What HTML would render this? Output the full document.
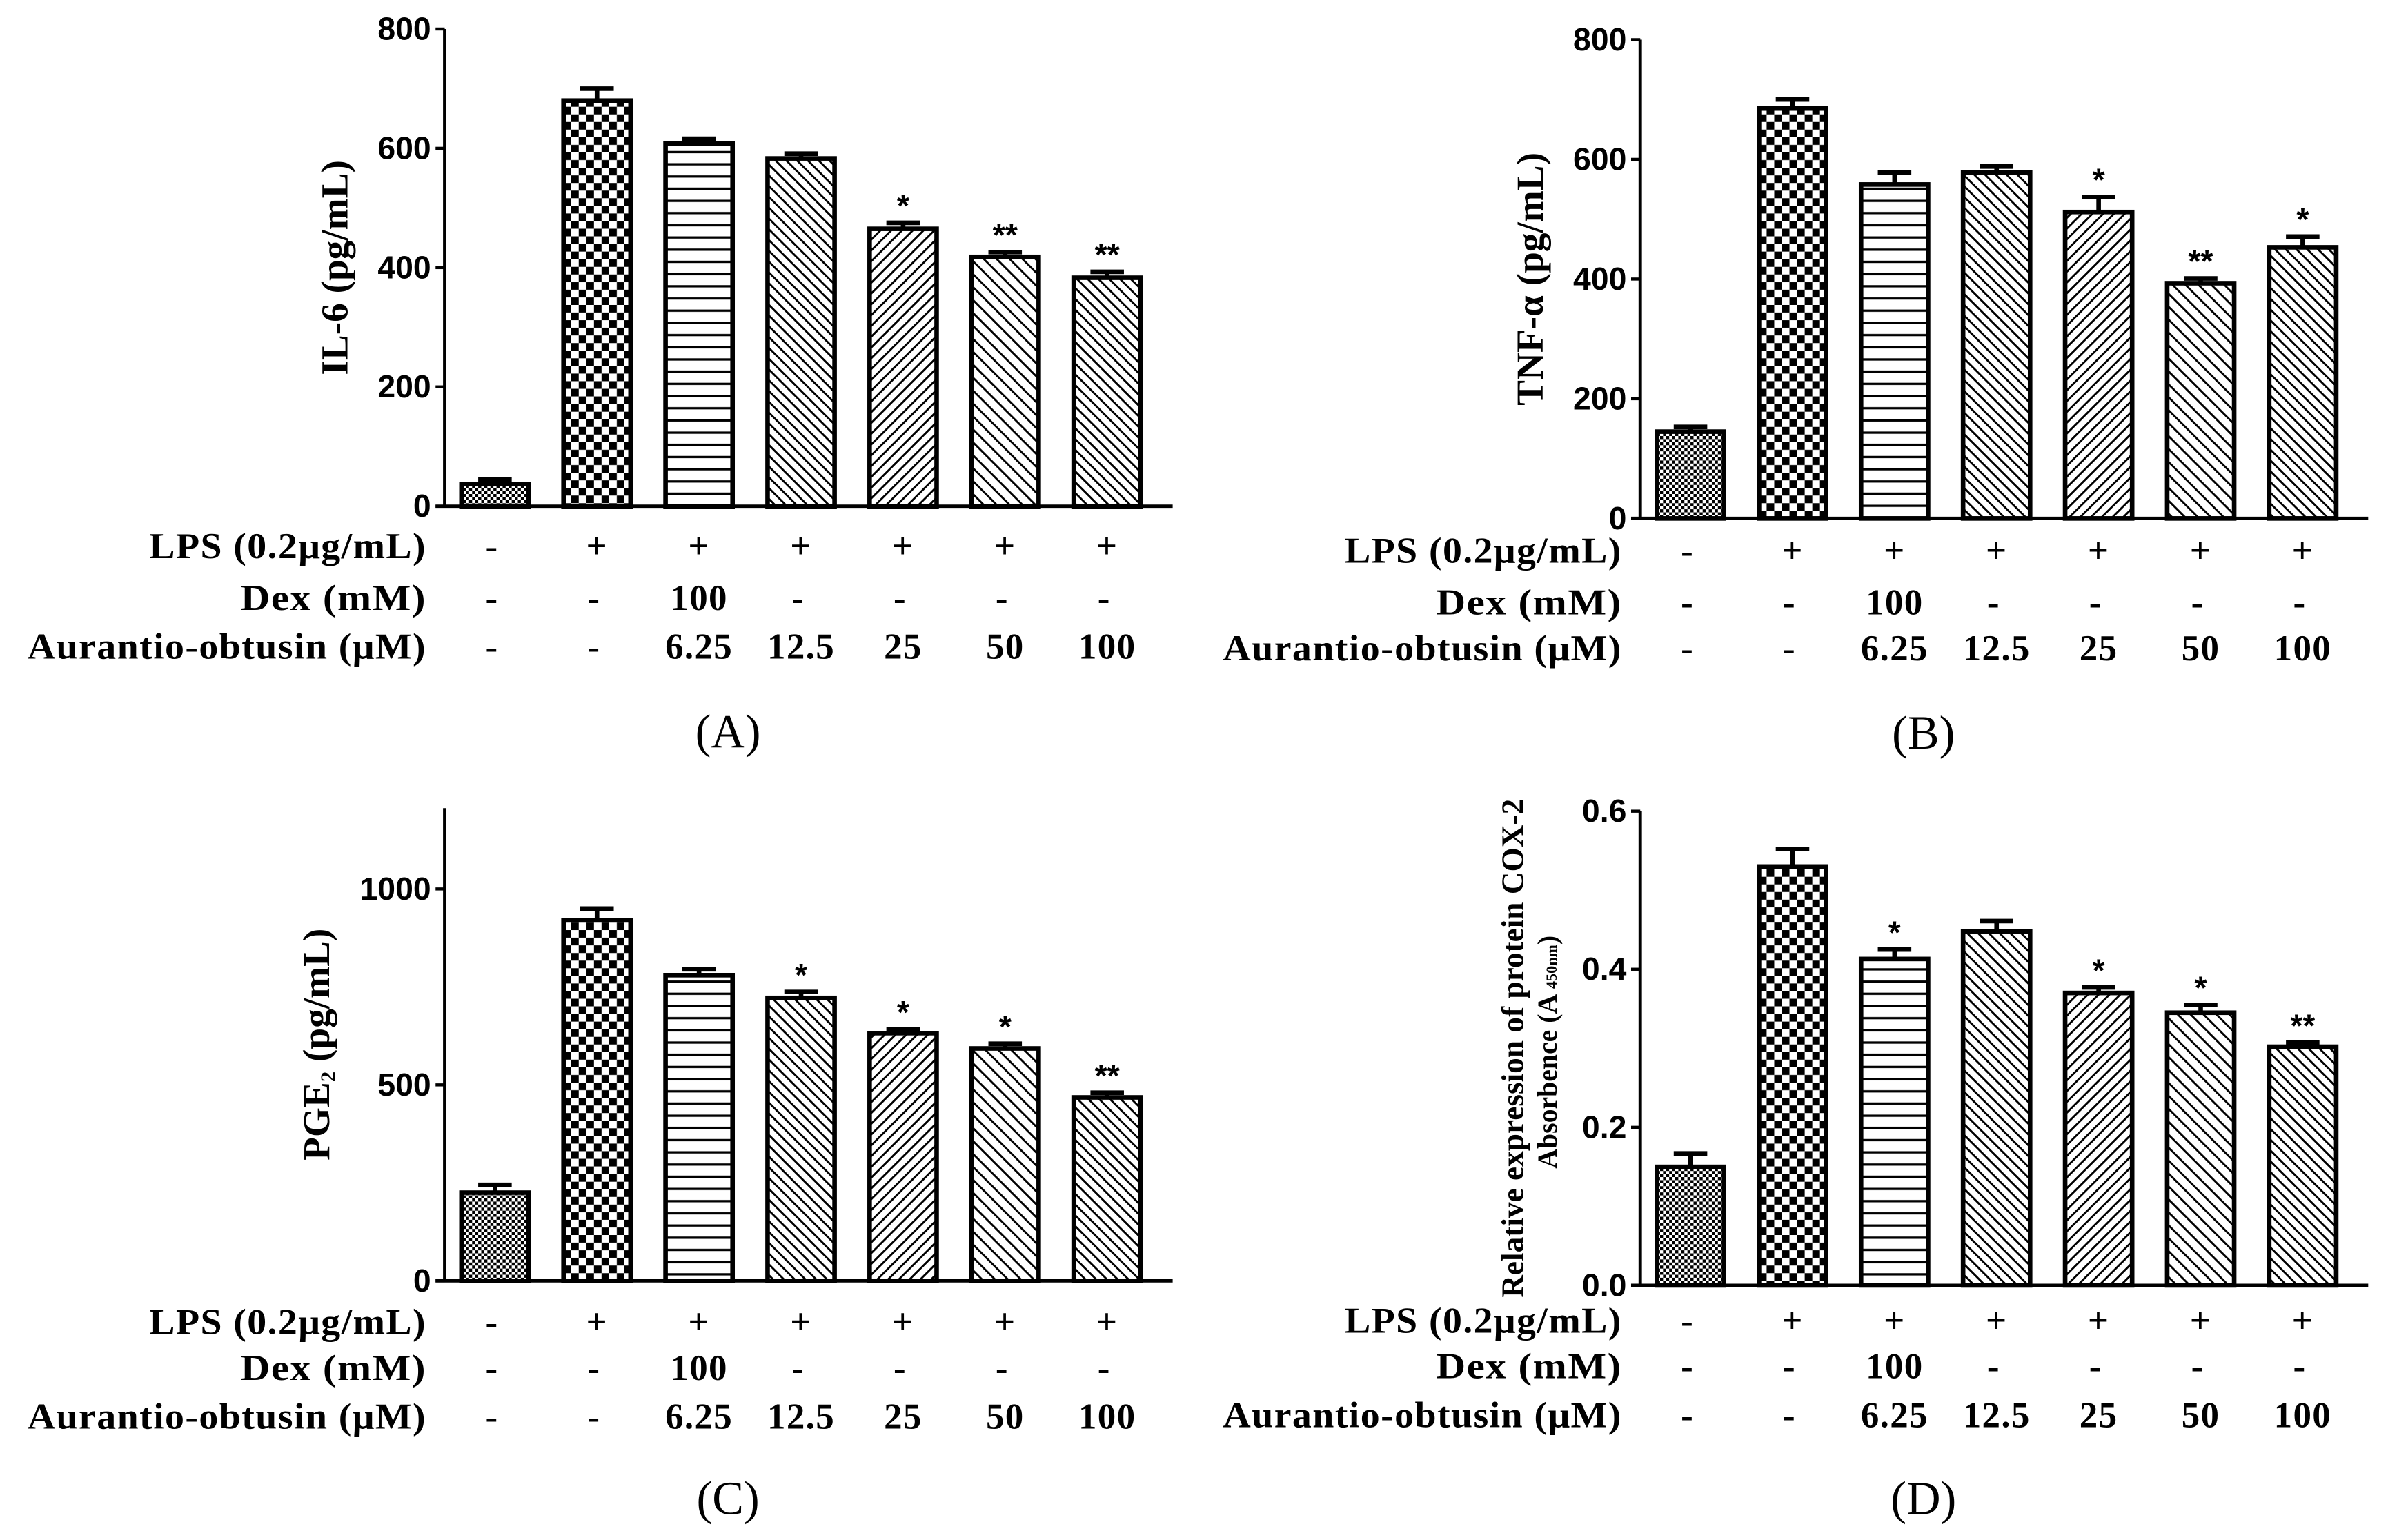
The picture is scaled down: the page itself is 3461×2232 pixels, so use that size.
<!DOCTYPE html>
<html><head><meta charset="utf-8"><style>
html,body{margin:0;padding:0;background:#fff;}
svg{display:block;}
.tick{font-family:"Liberation Sans",sans-serif;font-weight:bold;font-size:21px;}
.row{font-family:"Liberation Serif",serif;font-weight:bold;font-size:24px;letter-spacing:0.6px;}
.ttl{font-family:"Liberation Serif",serif;font-weight:bold;font-size:25px;}
.cap{font-family:"Liberation Serif",serif;font-size:31px;}
</style></head><body>
<svg id="fig" width="3461" height="2232" viewBox="0 0 1568 1010" preserveAspectRatio="none" xmlns="http://www.w3.org/2000/svg">
<defs>
<pattern id="p0" width="4" height="4" patternUnits="userSpaceOnUse"><rect width="4" height="4" fill="#fff"/><rect width="2" height="2" fill="#000"/><rect x="2" y="2" width="2" height="2" fill="#000"/></pattern>
<pattern id="p1" width="10" height="10" patternUnits="userSpaceOnUse"><rect width="10" height="10" fill="#fff"/><rect width="5" height="5" fill="#000"/><rect x="5" y="5" width="5" height="5" fill="#000"/></pattern>
<pattern id="p2" width="6" height="8" patternUnits="userSpaceOnUse"><rect width="6" height="8" fill="#fff"/><rect y="3" width="6" height="1.5" fill="#000"/></pattern>
<pattern id="p3" width="5" height="5" patternUnits="userSpaceOnUse" patternTransform="rotate(-45)"><rect width="5" height="5" fill="#fff"/><rect width="1.3" height="5" fill="#000"/></pattern>
<pattern id="p4" width="5" height="5" patternUnits="userSpaceOnUse" patternTransform="rotate(45)"><rect width="5" height="5" fill="#fff"/><rect width="1.3" height="5" fill="#000"/></pattern>
<pattern id="p5" width="6" height="6" patternUnits="userSpaceOnUse" patternTransform="rotate(-45)"><rect width="6" height="6" fill="#fff"/><rect width="1.3" height="6" fill="#000"/></pattern>
</defs>
</svg>
<script>
// Panel data
const lpsRow = ["-","+","+","+","+","+","+"];
const dexRow = ["-","-","100","-","-","-","-"];
const aoRow = ["-","-","6.25","12.5","25","50","100"];
const patterns = ["p0","p1","p2","p3","p4","p5","p3"];

const valuesA = [37,680,608,583,465,418,383];
const errorsA = [8,20,8,8,10,8,10];
const starsA = ["","","","","*","**","**"];
const ticksA = [0,200,400,600,800];

const valuesB = [145,685,558,578,512,393,453];
const errorsB = [8,15,20,10,25,8,18];
const starsB = ["","","","","*","**","*"];
const ticksB = [0,200,400,600,800];

const valuesC = [225,920,780,722,632,593,468];
const errorsC = [20,30,15,15,10,12,12];
const starsC = ["","","","*","*","*","**"];
const ticksC = [0,500,1000];

const valuesD = [0.150,0.530,0.413,0.448,0.370,0.345,0.302];
const errorsD = [0.017,0.022,0.012,0.013,0.007,0.010,0.005];
const starsD = ["","","*","","*","*","**"];
const ticksD = ["0.0","0.2","0.4","0.6"];

const NS="http://www.w3.org/2000/svg";
const svg=document.getElementById('fig');
function mk(tag,attrs,parent){const e=document.createElementNS(NS,tag);for(const k in attrs)e.setAttribute(k,attrs[k]);(parent||svg).appendChild(e);return e;}

function panel(cfg){
  const g=mk('g',{});
  
  
  const y=v=>cfg.y0-(v-0)/(cfg.ymax)*(cfg.y0-cfg.ytop);
  const x=i=>cfg.x0+33+i*67;
  const ya=mk('line',{x1:cfg.x0,y1:cfg.axTop,x2:cfg.x0,y2:cfg.y0,stroke:'#000','stroke-width':2.2},g);
  
  
  const xa=mk('line',{x1:cfg.x0-6,y1:cfg.y0,x2:cfg.x0+478,y2:cfg.y0,stroke:'#000','stroke-width':2.2},g);
  
  
  cfg.ticks.forEach(t=>{
    const v=parseFloat(t), yy=y(v);
    mk('line',{x1:cfg.x0-6,y1:yy,x2:cfg.x0,y2:yy,stroke:'#000','stroke-width':2},g);
    const tx=mk('text',{x:cfg.x0-9,y:yy+7,'text-anchor':'end',class:'tick'},g);
    tx.textContent=t;
    
    
  });
  const tt=mk('text',{transform:`translate(${cfg.titleX},${(cfg.axTop+cfg.y0)/2}) rotate(-90)`,'text-anchor':'middle',class:'ttl'},g);
  if(cfg.titleSize) tt.style.fontSize=cfg.titleSize+'px';
  tt.innerHTML=cfg.title;
  
  
  cfg.values.forEach((v,i)=>{
    const cx=x(i), w=44, top=y(v);
    const b=mk('rect',{x:cx-w/2,y:top,width:w,height:cfg.y0-top,fill:`url(#${patterns[i]})`,stroke:'#000','stroke-width':3},g);
    
    
    const et=y(v+cfg.errors[i]);
    const e=mk('path',{d:`M${cx},${top} V${et} M${cx-11},${et} H${cx+11}`,stroke:'#000','stroke-width':3},g);
    
    
    if(cfg.stars[i]){
      const s=mk('text',{x:cx,y:et-4,'text-anchor':'middle',class:'tick'},g);
      s.textContent=cfg.stars[i];
      
      
    }
  });
  const rows=[["LPS (0.2μg/mL)",lpsRow,182],["Dex  (mM)",dexRow,122],["Aurantio-obtusin (μM)",aoRow,262]];
  rows.forEach((r,ri)=>{
    const ry=cfg.rows[ri];
    const l=mk('text',{x:cfg.x0-12,y:ry,'text-anchor':'end',class:'row',textLength:r[2],lengthAdjust:'spacingAndGlyphs'},g);
    l.textContent=r[0];
    
    
    r[1].forEach((c,i)=>{
      const t=mk('text',{x:x(i)+(c=='-'?-2:0),y:ry,'text-anchor':'middle',class:'row'},g);
      t.textContent=c;
      
      
    });
  });
  const cp=mk('text',{x:cfg.x0+186,y:cfg.capY,'text-anchor':'middle',class:'cap'},g);
  cp.textContent='('+cfg.id+')';
  
  
}

panel({id:'A',x0:292,y0:332,ytop:19,axTop:19,ymax:800,ticks:ticksA,values:valuesA,errors:errorsA,stars:starsA,title:'IL-6 (pg/mL)',titleX:228,rows:[366,400,432],capY:490});
panel({id:'B',x0:1077,y0:340,ytop:26,axTop:26,ymax:800,ticks:ticksB,values:valuesB,errors:errorsB,stars:starsB,title:'TNF-α  (pg/mL)',titleX:1013,rows:[369,403,433],capY:491});
panel({id:'C',x0:292,y0:840,ytop:583,axTop:530,ymax:1000,ticks:ticksC,values:valuesC,errors:errorsC,stars:starsC,title:'PGE<tspan font-size="14" dy="4">2</tspan><tspan dy="-4"> (pg/mL)</tspan>',titleX:216,rows:[875,905,937],capY:993});
panel({id:'D',x0:1077,y0:843,ytop:532,axTop:532,ymax:0.6,ticks:ticksD,values:valuesD,errors:errorsD,stars:starsD,title:'Relative expression of protein COX-2',titleSize:20.5,titleX:1000,rows:[874,904,936],capY:993});
const t2=mk('text',{transform:'translate(1022,690) rotate(-90)','text-anchor':'middle',class:'ttl'});
t2.style.fontSize='18px';
t2.innerHTML='Absorbence (A <tspan font-size="10">450nm</tspan>)';


</script>
</body></html>
